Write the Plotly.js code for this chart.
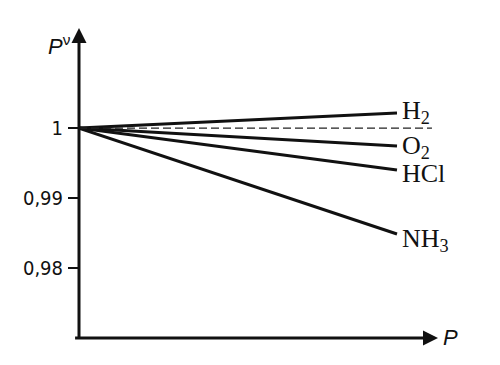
<!DOCTYPE html>
<html><head><meta charset="utf-8">
<script src="https://cdn.plot.ly/plotly-3.0.1.min.js"></script>
<style>html,body{margin:0;padding:0;background:#fff}</style>
</head><body><div id="chart" style="width:500px;height:365px"></div>
<script>
// Data
var gases = ['H<sub>2</sub>', 'O<sub>2</sub>', 'HCl', 'NH<sub>3</sub>'];
var pressure = [0, 1];
var endValues = [1.00214, 0.99743, 0.99400, 0.98486];
var idealX = [0, 1.11];
var idealY = [1, 1];
var yTickVals = [1, 0.99, 0.98];
var yTickText = ['1', '0,99', '0,98'];

var traces = [];
for (var i = 0; i < gases.length; i++) {
  traces.push({
    x: pressure, y: [1, endValues[i]], mode: 'lines', type: 'scatter',
    line: {color: '#111', width: 3}, hoverinfo: 'none', cliponaxis: false
  });
}
traces.push({x: idealX, y: idealY, mode: 'lines', type: 'scatter',
  line: {color: '#222', width: 1.2, dash: '8px,4px'}, hoverinfo: 'none'});

var xr = [0, 1.129], yr = [0.97, 1.0143];
var labelShift = [1, -1, -3, -6];
var annotations = [];
for (var j = 0; j < gases.length; j++) {
  annotations.push({x: pressure[1], y: endValues[j], xref: 'x', yref: 'y',
    text: gases[j], showarrow: false, xanchor: 'left', yanchor: 'middle', xshift: 3,
    yshift: labelShift[j],
    font: {family: 'Liberation Serif, Times New Roman, serif', size: 26, color: '#111'}});
}
// axes with arrows
annotations.push({x: 0, y: yr[1], ax: 0, ay: 0.9697, xref: 'x', yref: 'y', axref: 'x', ayref: 'y',
  text: '', showarrow: true, arrowhead: 2, arrowsize: 1, arrowwidth: 3, arrowcolor: '#111', standoff: 0});
annotations.push({x: xr[1], y: yr[0], ax: -0.017, ay: yr[0], xref: 'x', yref: 'y', axref: 'x', ayref: 'y',
  text: '', showarrow: true, arrowhead: 2, arrowsize: 1, arrowwidth: 3, arrowcolor: '#111', standoff: 0});
annotations.push({x: 0, y: yr[1], xref: 'x', yref: 'y', text: '<i>P</i><sup>ν</sup>', showarrow: false,
  xanchor: 'right', yanchor: 'top', xshift: -6, yshift: -1,
  font: {family: 'Liberation Sans, Arial, sans-serif', size: 22, color: '#111'}});
annotations.push({x: xr[1], y: yr[0], xref: 'x', yref: 'y', text: '<i>P</i>', showarrow: false,
  xanchor: 'left', yanchor: 'middle', xshift: 3, yshift: 1,
  font: {family: 'Liberation Sans, Arial, sans-serif', size: 22, color: '#111'}});

var layout = {
  width: 500, height: 365, showlegend: false,
  margin: {l: 79, r: 62, t: 28, b: 27},
  paper_bgcolor: '#fff', plot_bgcolor: '#fff',
  xaxis: {range: xr, showgrid: false, zeroline: false, showline: false, showticklabels: false, ticks: ''},
  yaxis: {range: yr, showgrid: false, zeroline: false, showline: false,
    tickvals: yTickVals, ticktext: yTickText, ticks: 'outside', ticklen: 10, tickwidth: 1.5, tickcolor: '#111',
    ticklabelstandoff: 1,
    tickfont: {family: 'DejaVu Sans Condensed, Liberation Sans Narrow, Liberation Sans, sans-serif', size: 20, color: '#111'}},
  annotations: annotations
};
Plotly.newPlot('chart', traces, layout, {displayModeBar: false, staticPlot: true});
</script></body></html>
